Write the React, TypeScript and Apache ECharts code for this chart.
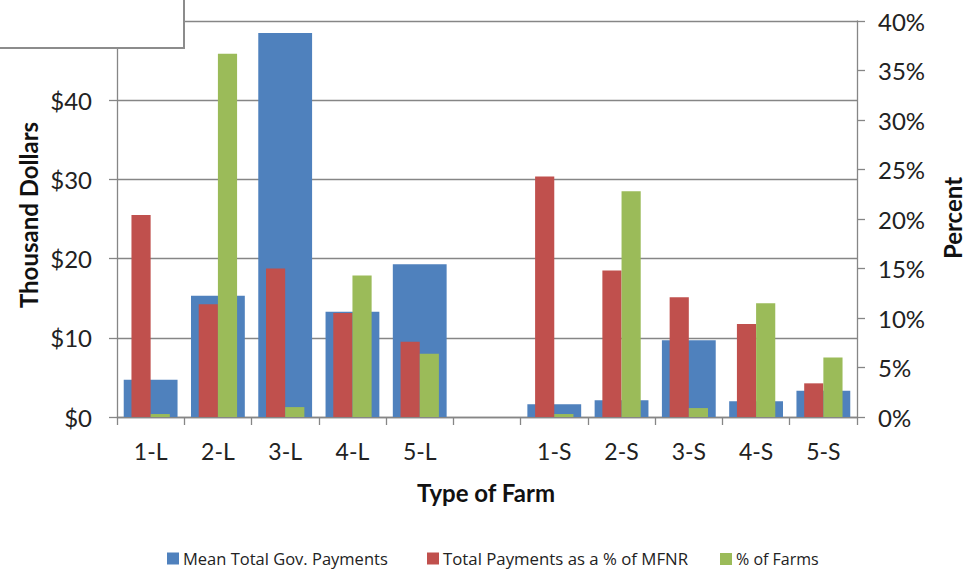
import React, { useEffect, useRef } from "react";
import * as echarts from "echarts";

// Farm types (blank slot separates large from small farms)
const categories = ["1-L", "2-L", "3-L", "4-L", "5-L", "", "1-S", "2-S", "3-S", "4-S", "5-S"];

// Mean total government payments, thousand dollars
const meanPayments: (number | null)[] = [4.7, 15.3, 48.5, 13.3, 19.3, null, 1.6, 2.1, 9.7, 2.0, 3.3];

// Total payments as a % of MFNR
const paymentsPctMfnr: (number | null)[] = [20.4, 11.4, 15.0, 10.5, 7.6, null, 24.3, 14.8, 12.1, 9.4, 3.4];

// Share of farms, %
const pctFarms: (number | null)[] = [0.3, 36.7, 1.0, 14.3, 6.4, null, 0.3, 22.8, 0.9, 11.5, 6.0];

const seriesNames = ["Mean Total Gov. Payments", "Total Payments as a % of MFNR", "% of Farms"];
const colors = ["#4F81BD", "#C0504D", "#9BBB59"];
// left edge of each legend entry (legend box has 5px padding)
const legendLefts = [162, 422, 715];

const FONT = "Lato, 'Open Sans', sans-serif";
const LEGEND_FONT = "'Open Sans', Lato, sans-serif";
const AXIS_GRAY = "#868686";

export default function App() {
  const ref = useRef<HTMLDivElement>(null);

  useEffect(() => {
    if (!ref.current) return;
    const chart = echarts.init(ref.current, null, { renderer: "svg" });

    const titleStyle = {
      fontFamily: FONT,
      fontSize: 24,
      fontWeight: "bold" as const,
      fill: "#111",
      align: "center" as const,
      verticalAlign: "middle" as const,
    };

    const legendFontSizes = [16.5, 16.8, 16];

    const option: echarts.EChartsOption = {
      animation: false,
      backgroundColor: "#ffffff",
      textStyle: { fontFamily: FONT },
      grid: { left: 117, right: 112, top: 21, bottom: 152, containLabel: false },
      legend: seriesNames.map((name, i) => ({
        bottom: -3,
        left: legendLefts[i],
        itemWidth: 12,
        itemHeight: 12,
        itemGap: 4,
        icon: "rect",
        textStyle: { fontFamily: LEGEND_FONT, fontSize: legendFontSizes[i], color: "#222", padding: [0, 0, 0, -1] },
        data: [name],
      })),
      xAxis: [
        {
          type: "category",
          data: categories,
          axisLine: { lineStyle: { color: AXIS_GRAY, width: 1.3 } },
          axisTick: { show: true, length: 8, alignWithLabel: false, lineStyle: { color: AXIS_GRAY, width: 1.3 } },
          axisLabel: { fontFamily: FONT, fontSize: 23, color: "#222", margin: 22 },
          splitLine: { show: false },
        },
        {
          type: "category",
          data: categories,
          show: false,
        },
      ],
      yAxis: [
        {
          type: "value",
          min: 0,
          max: 50,
          interval: 10,
          position: "left",
          axisLine: { show: true, lineStyle: { color: AXIS_GRAY, width: 1.3 } },
          axisTick: { show: true, length: 8, lineStyle: { color: AXIS_GRAY, width: 1.3 } },
          axisLabel: {
            fontFamily: FONT,
            fontSize: 24,
            color: "#222",
            margin: 25,
            formatter: (v: number) => `$${v}`,
          },
          splitLine: { show: true, lineStyle: { color: AXIS_GRAY, width: 1.3 } },
        },
        {
          type: "value",
          min: 0,
          max: 40,
          interval: 5,
          position: "right",
          axisLine: { show: true, lineStyle: { color: AXIS_GRAY, width: 1.3 } },
          axisTick: { show: true, length: 8, lineStyle: { color: AXIS_GRAY, width: 1.3 } },
          axisLabel: {
            fontFamily: FONT,
            fontSize: 24,
            color: "#222",
            margin: 21,
            formatter: (v: number) => `${v}%`,
          },
          splitLine: { show: false },
        },
      ],
      series: [
        {
          name: seriesNames[0],
          type: "bar",
          xAxisIndex: 0,
          yAxisIndex: 0,
          data: meanPayments,
          barCategoryGap: "20%",
          itemStyle: { color: colors[0] },
          z: 1,
        },
        {
          name: seriesNames[1],
          type: "bar",
          xAxisIndex: 1,
          yAxisIndex: 1,
          data: paymentsPctMfnr,
          barCategoryGap: "43%",
          barGap: "0%",
          itemStyle: { color: colors[1] },
          z: 3,
        },
        {
          name: seriesNames[2],
          type: "bar",
          xAxisIndex: 1,
          yAxisIndex: 1,
          data: pctFarms,
          barCategoryGap: "43%",
          barGap: "0%",
          itemStyle: { color: colors[2] },
          z: 3,
        },
      ],
      graphic: [
        {
          type: "rect",
          z: 100,
          shape: { x: -2, y: -2, width: 186, height: 50 },
          style: { fill: "#ffffff", stroke: "#8c8c8c", lineWidth: 2 },
        },
        {
          type: "text",
          z: 100,
          x: 28,
          y: 215,
          rotation: Math.PI / 2,
          style: { ...titleStyle, text: "Thousand Dollars" },
        },
        {
          type: "text",
          z: 100,
          x: 952,
          y: 218,
          rotation: Math.PI / 2,
          style: { ...titleStyle, text: "Percent" },
        },
        {
          type: "text",
          z: 100,
          x: 486,
          y: 492,
          style: { ...titleStyle, text: "Type of Farm" },
        },
      ],
    };

    chart.setOption(option);
    return () => chart.dispose();
  }, []);

  return (
    <div
      ref={ref}
      style={{ position: "fixed", left: 0, top: 0, width: 969, height: 569, background: "#fff" }}
    />
  );
}
